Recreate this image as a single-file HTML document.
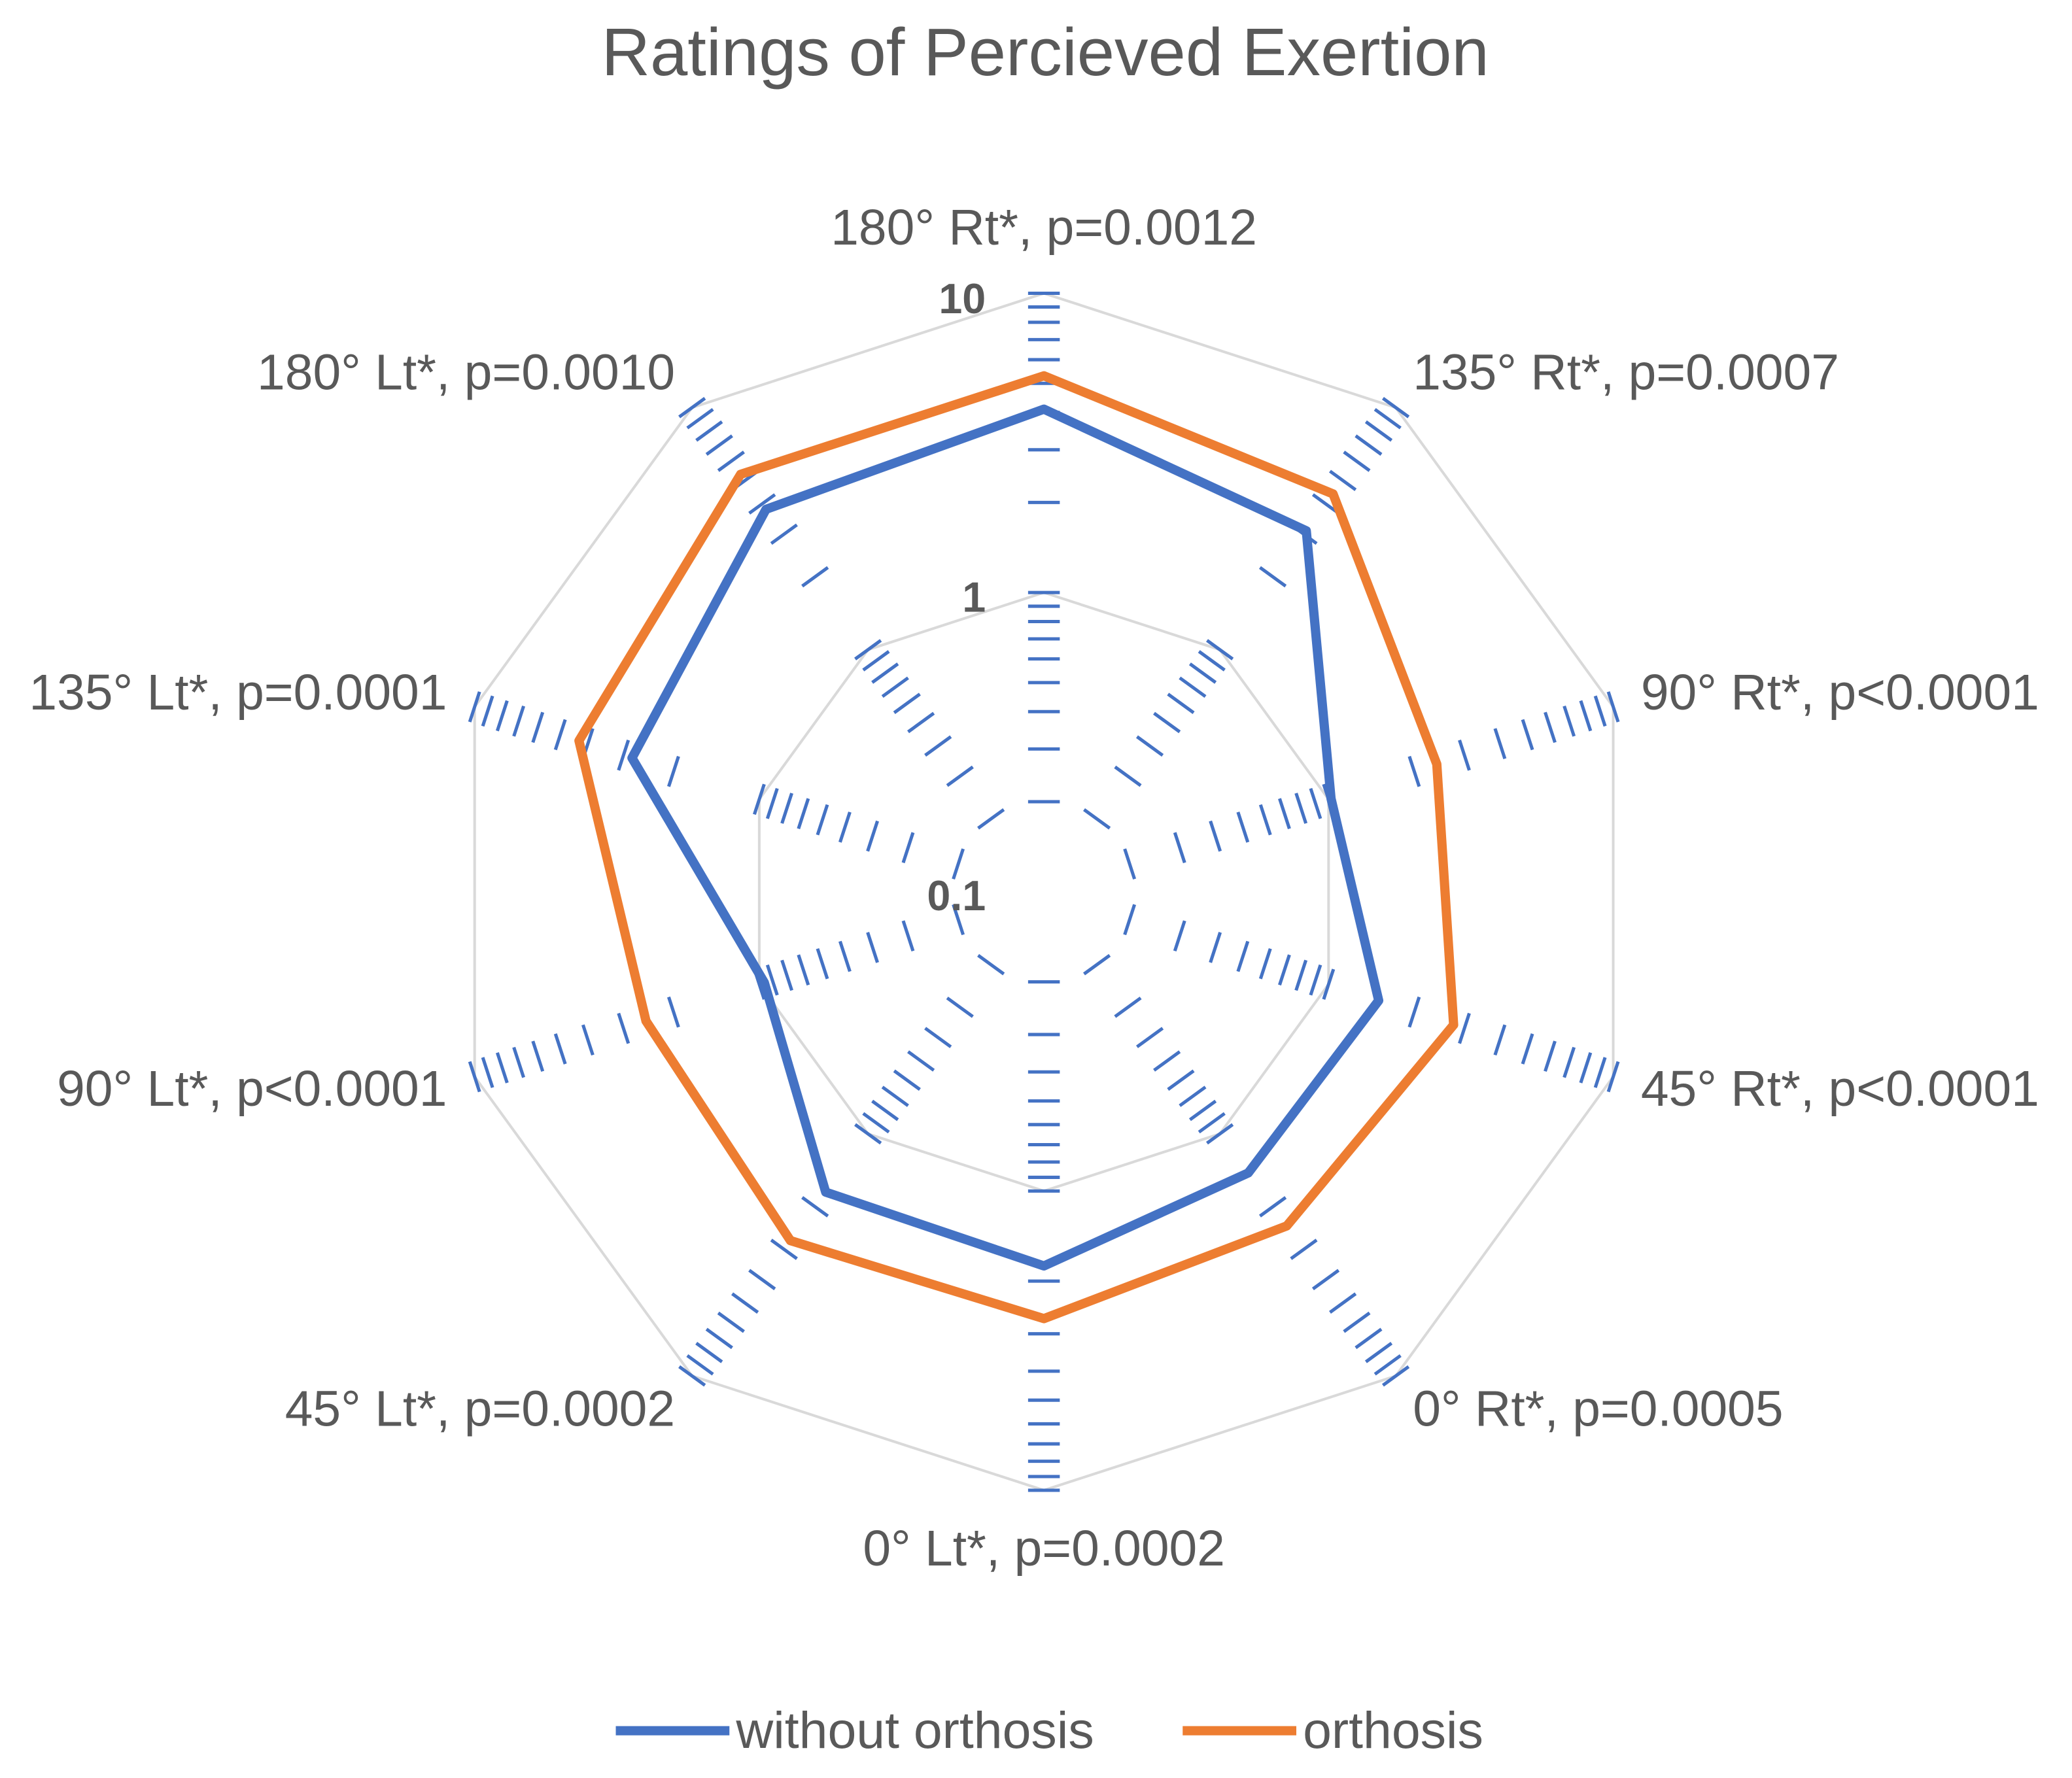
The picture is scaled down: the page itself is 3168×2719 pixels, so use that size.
<!DOCTYPE html>
<html><head><meta charset="utf-8"><style>
html,body{margin:0;padding:0;background:#fff;}
svg{display:block;}
text{font-family:"Liberation Sans",sans-serif;fill:#595959;}
</style></head><body>
<svg id="chart" width="3168" height="2719" viewBox="0 0 1568 1345.8" xmlns="http://www.w3.org/2000/svg">
<rect width="1568" height="1346" fill="#fff"/>
<text x="791" y="57" font-size="51" text-anchor="middle">Ratings of Percieved Exertion</text>
<g id="grid"></g>
<g id="ticks"></g>
<g id="series"></g>
<g id="labels"></g>
<text x="746" y="237" font-size="32" font-weight="bold" text-anchor="end">10</text>
<text x="746" y="463" font-size="32" font-weight="bold" text-anchor="end">1</text>
<text x="746" y="689" font-size="32" font-weight="bold" text-anchor="end">0.1</text>
<g>
<line x1="466" y1="1310" x2="552" y2="1310" stroke="#4472C4" stroke-width="7"/>
<text x="557" y="1323" font-size="39">without orthosis</text>
<line x1="895" y1="1310" x2="981" y2="1310" stroke="#ED7D31" stroke-width="7"/>
<text x="986" y="1323" font-size="39">orthosis</text>
</g>
</svg>
<script>
const categories = ["180° Rt*, p=0.0012","135° Rt*, p=0.0007","90° Rt*, p<0.0001","45° Rt*, p<0.0001","0° Rt*, p=0.0005","0° Lt*, p=0.0002","45° Lt*, p=0.0002","90° Lt*, p<0.0001","135° Lt*, p=0.0001","180° Lt*, p=0.0010"];
const withoutOrthosis = [4.1, 3.1, 1.02, 1.5, 1.45, 1.78, 1.74, 0.96, 2.8, 3.8];
const orthosis = [5.3, 4.4, 2.4, 2.75, 2.4, 2.67, 2.76, 2.5, 4.3, 5.3];
const tickValues = [0.2,0.3,0.4,0.5,0.6,0.7,0.8,0.9,1,2,3,4,5,6,7,8,9,10];
const gridValues = [1, 10];

const NS = "http://www.w3.org/2000/svg";
const cx = 790, cy = 675, rPerDecade = 226.5, minLog = -1;
function rScale(v){ return (Math.log10(v) - minLog) * rPerDecade; }
function angle(i){ return i * 2 * Math.PI / categories.length; }
function pt(i, v){ const a = angle(i), r = rScale(v); return [cx + r*Math.sin(a), cy - r*Math.cos(a)]; }
function mk(tag, attrs){ const e = document.createElementNS(NS, tag); for (const k in attrs) e.setAttribute(k, attrs[k]); return e; }

const grid = document.getElementById('grid');
gridValues.forEach(g => {
  const pts = categories.map((c,i) => pt(i,g).join(',')).join(' ');
  const p = mk('polygon', {points: pts, fill: 'none', stroke: '#D9D9D9', 'stroke-width': 2});
  
  
  grid.appendChild(p);
});

const ticks = document.getElementById('ticks');
categories.forEach((c,i) => {
  const a = angle(i);
  const ux = Math.cos(a), uy = Math.sin(a);
  tickValues.forEach(t => {
    const [x,y] = pt(i,t);
    const l = mk('line', {x1: x-12*ux, y1: y-12*uy, x2: x+12*ux, y2: y+12*uy, stroke: '#4472C4', 'stroke-width': 2.5});
    
    
    ticks.appendChild(l);
  });
});

const series = document.getElementById('series');
[[withoutOrthosis,'#4472C4','series-without-orthosis'],[orthosis,'#ED7D31','series-orthosis']].forEach(([vals,col,name]) => {
  const pts = vals.map((v,i) => pt(i,v).join(',')).join(' ');
  const p = mk('polygon', {points: pts, fill: 'none', stroke: col, 'stroke-width': 7, 'stroke-linejoin': 'round'});
  
  
  series.appendChild(p);
});

const labels = document.getElementById('labels');
categories.forEach((c,i) => {
  const a = angle(i);
  const [x,y] = pt(i, 10);
  const s = Math.sin(a), co = Math.cos(a);
  let anchor = Math.abs(s) < 0.1 ? 'middle' : (s > 0 ? 'start' : 'end');
  let lx = x + 22*s, ly = y - 32*co + 12;
  if (Math.abs(s) < 0.1) { ly = co > 0 ? y - 37 : y + 57; }
  const t = mk('text', {x: lx, y: ly, 'font-size': 38, 'text-anchor': anchor});
  t.textContent = c;
  
  
  labels.appendChild(t);
});
</script>
</body></html>
